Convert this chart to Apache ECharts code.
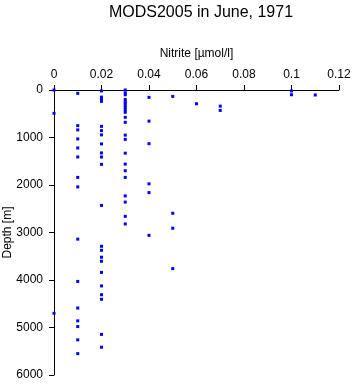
<!DOCTYPE html>
<html>
<head>
<meta charset="utf-8">
<script src="https://cdn.jsdelivr.net/npm/echarts@6/dist/echarts.min.js"></script>
<style>
  html, body { margin: 0; padding: 0; background: #fff; }
  #chart { width: 353px; height: 384px; }
</style>
</head>
<body>
<div id="chart"></div>
<script>
// nitrite levels (µmol/l) and the depths (m) measured at each level
const nitriteLevels = [0, 0.01, 0.02, 0.03, 0.04, 0.05, 0.06, 0.07, 0.1, 0.11];
const depthsAt000 = [0, 490, 4700];
const depthsAt001 = [70, 750, 840, 1030, 1220, 1410, 1840, 2040, 3140, 4030, 4590, 4860, 4980, 5260, 5550];
const depthsAt002 = [20, 150, 190, 240, 765, 855, 945, 1135, 1325, 1410, 1565, 2430,
  3290, 3375, 3520, 3605, 3840, 4125, 4310, 4405, 5145, 5415];
const depthsAt003 = [0, 60, 100, 200, 250, 280, 330, 370, 420, 470, 575, 680, 950, 1040,
  1330, 1560, 1700, 1840, 2230, 2360, 2660, 2820];
const depthsAt004 = [155, 655, 1130, 1975, 2160, 3060];
const depthsAt005 = [135, 2595, 2910, 3760];
const depthsAt006 = [290];
const depthsAt007 = [340, 430];
const depthsAt010 = [20, 100];
const depthsAt011 = [105];

const depthColumns = [depthsAt000, depthsAt001, depthsAt002, depthsAt003, depthsAt004,
  depthsAt005, depthsAt006, depthsAt007, depthsAt010, depthsAt011];

const points = [];
nitriteLevels.forEach((n, i) => {
  depthColumns[i].forEach(d => points.push([n, d]));
});

const font = 'Liberation Sans, Arial, sans-serif';
const chart = echarts.init(document.getElementById('chart'));

chart.setOption({
  animation: false,
  title: {
    text: 'MODS2005 in June, 1971',
    left: 196,
    textAlign: 'center',
    top: 0,
    textStyle: { fontFamily: font, fontSize: 16, fontWeight: 'normal', color: '#000' }
  },
  grid: { left: 54, top: 90, right: 14, bottom: 9, containLabel: false, outerBoundsMode: 'none' },
  xAxis: {
    type: 'value',
    position: 'top',
    min: 0,
    max: 0.12,
    interval: 0.02,
    name: 'Nitrite [\u00b5mol/l]',
    nameLocation: 'middle',
    nameGap: 30,
    nameMoveOverlap: false,
    nameTextStyle: { fontFamily: font, fontSize: 12, color: '#000' },
    axisLine: { onZero: false, lineStyle: { color: '#000', width: 1 } },
    axisTick: { show: true, length: 5, lineStyle: { color: '#000' } },
    axisLabel: { fontFamily: font, fontSize: 12, color: '#000', margin: 9,
      formatter: v => String(v) },
    splitLine: { show: false }
  },
  yAxis: {
    type: 'value',
    inverse: true,
    min: 0,
    max: 6000,
    interval: 1000,
    name: 'Depth [m]',
    nameLocation: 'middle',
    nameRotate: 90,
    nameGap: 46,
    nameMoveOverlap: false,
    nameTextStyle: { fontFamily: font, fontSize: 12, color: '#000', verticalAlign: 'middle' },
    axisLine: { show: true, onZero: false, lineStyle: { color: '#000', width: 1 } },
    axisTick: { show: true, length: 5, lineStyle: { color: '#000' } },
    axisLabel: { fontFamily: font, fontSize: 12, color: '#000', margin: 11,
      formatter: v => String(v) },
    splitLine: { show: false }
  },
  series: [{
    type: 'scatter',
    data: points,
    symbol: 'rect',
    symbolSize: 3,
    itemStyle: { color: '#0000ff', opacity: 1 }
  }]
});
</script>
</body>
</html>
